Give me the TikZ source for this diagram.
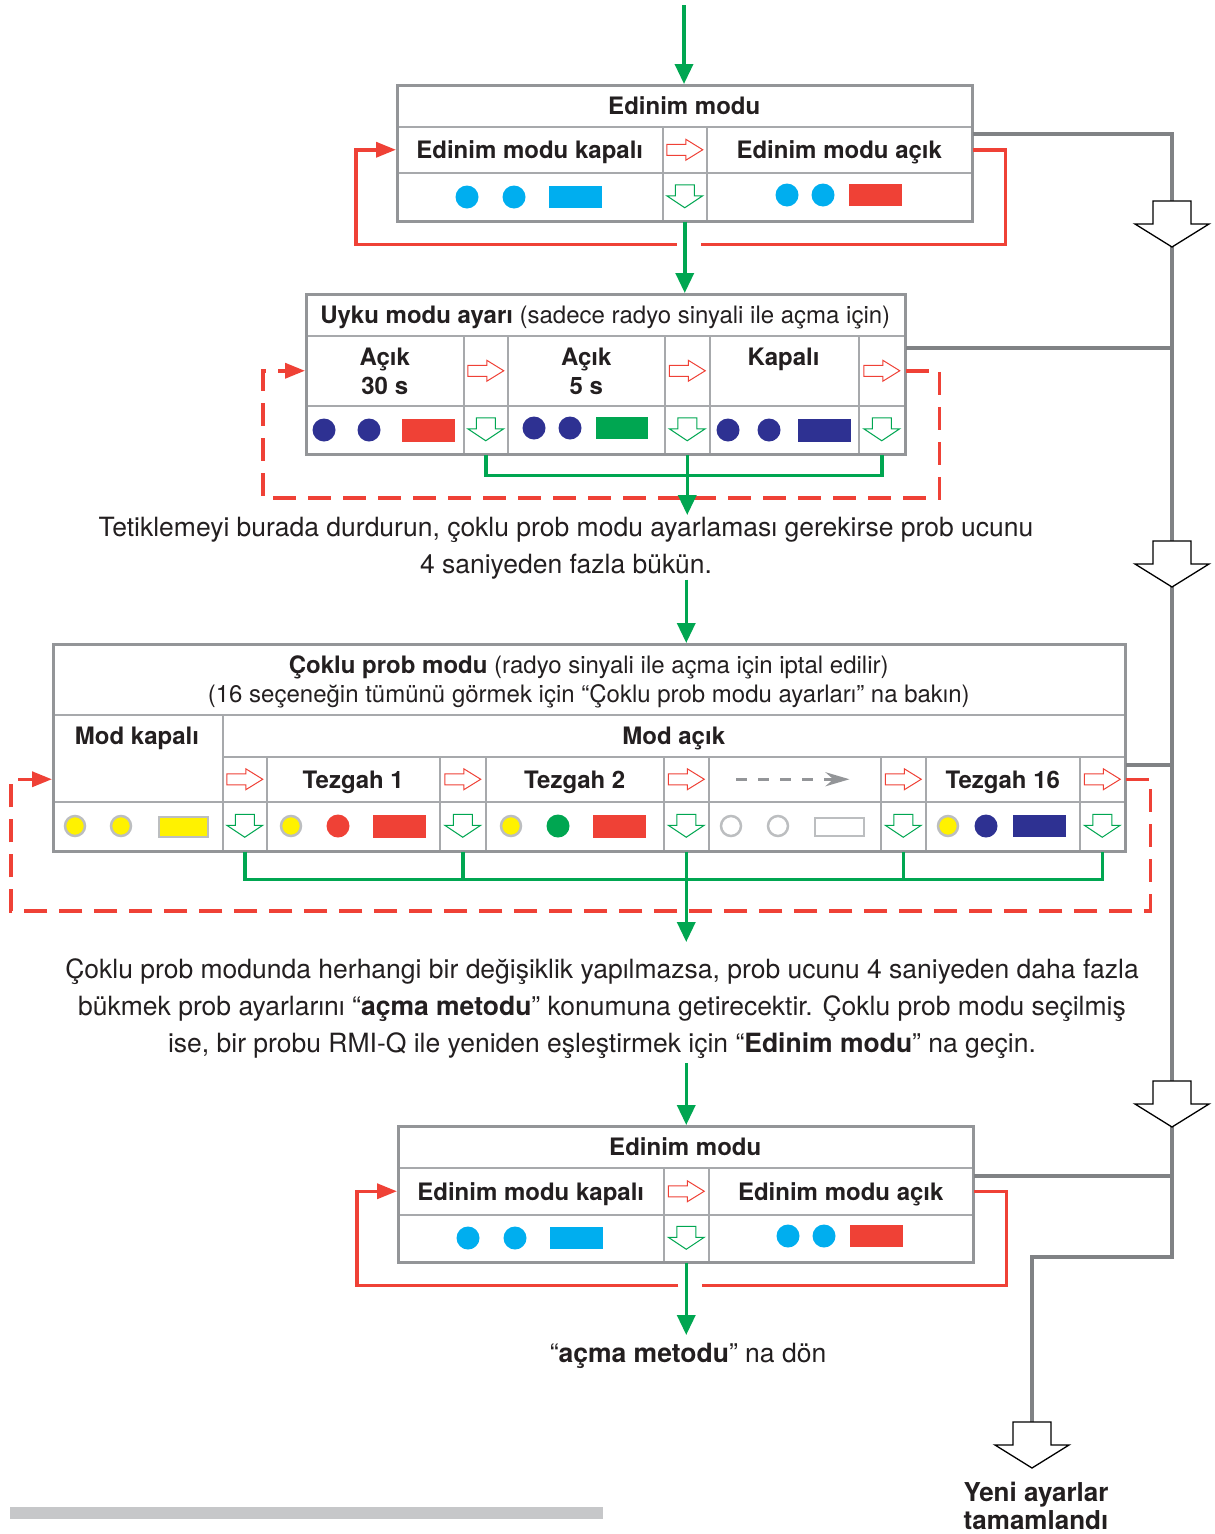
\documentclass[tikz,border=0pt]{standalone}
\usepackage{fontspec}
\setmainfont{TeX Gyre Heros}
\usepackage{tikz}
\usetikzlibrary{
  arrows.meta,
  positioning,
  calc
}
\definecolor{boxgray}{RGB}{147,149,152}
\definecolor{cellgray}{RGB}{167,169,172}
\definecolor{linegray}{RGB}{128,130,133}
\definecolor{ringgray}{RGB}{188,190,192}
\definecolor{barlight}{RGB}{198,199,201}
\definecolor{flowred}{RGB}{239,65,54}
\definecolor{flowgreen}{RGB}{0,166,81}
\definecolor{ledcyan}{RGB}{0,174,239}
\definecolor{lednavy}{RGB}{46,49,146}
\definecolor{ledyellow}{RGB}{255,242,0}
\definecolor{textdark}{RGB}{35,31,32}

\tikzset{
  redarr/.pic={\draw[flowred, line width=1pt, fill=white] (-18,-5.5) -- (1,-5.5) -- (1,-10.5) -- (18,0) -- (1,10.5) -- (1,5.5) -- (-18,5.5) -- cycle;},
  grnarr/.pic={\draw[flowgreen, line width=1pt, fill=white] (-9.5,-12) -- (9.5,-12) -- (9.5,-1) -- (18,-1) -- (0,11) -- (-18,-1) -- (-9.5,-1) -- cycle;},
  bigarr/.pic={\draw[black, line width=1.3pt, fill=white] (-19,-23) -- (19,-23) -- (19,0) -- (37,0) -- (0,23) -- (-37,0) -- (-19,0) -- cycle;}
}

\begin{document}
\begin{tikzpicture}[x=1pt, y=-1pt,
    every node/.style={font=\fontsize{24}{29}\selectfont, text=textdark},
    cell/.style={draw=cellgray, line width=1.5pt, anchor=north west, inner sep=0pt, align=center, text depth=0pt, font=\fontsize{24}{29}\selectfont\bfseries},
    outerbox/.style={draw=boxgray, line width=3pt, anchor=north west, inner sep=0pt},
    body/.style={font=\fontsize{26.5}{37}\selectfont, align=center, inner sep=0pt, anchor=north},
    greenflow/.style={draw=flowgreen, line width=3.5pt},
    greenarr/.style={greenflow, -{Triangle[length=20pt,width=18pt]}},
    redloop/.style={draw=flowred, line width=3.5pt},
    redback/.style={redloop, -{Triangle[length=20pt,width=15pt]}},
    reddash/.style={redback, dash pattern=on 23pt off 12pt},
    grayflow/.style={draw=linegray, line width=4pt},
    graydots/.style={draw=boxgray, line width=3pt, dash pattern=on 11pt off 11pt, -{Stealth[length=24pt,width=14pt]}},
    ledring/.style={draw=ringgray, line width=2.5pt}]
  \useasboundingbox (0,0) rectangle (1215,1534);

  % Edinim modu (top)
  \node[cell, minimum width=575pt, minimum height=42pt] (b1h) at (396,84) {Edinim modu};
  \node[cell, minimum width=266pt, minimum height=46pt] (b1off) at (396,126) {Edinim modu kapalı};
  \node[cell, minimum width=44pt, minimum height=46pt] (b1ar) at (662,126) {};
  \node[cell, minimum width=265pt, minimum height=46pt] (b1on) at (706,126) {Edinim modu açık};
  \node[cell, minimum width=266pt, minimum height=48pt] (b1offl) at (396,172) {};
  \node[cell, minimum width=44pt, minimum height=48pt] (b1arl) at (662,172) {};
  \node[cell, minimum width=265pt, minimum height=48pt] (b1onl) at (706,172) {};
  \node[outerbox, minimum width=575pt, minimum height=136pt] (b1) at (396,84) {};
  \pic at (b1ar.center) {redarr};
  \pic at (b1arl.center) {grnarr};
  \fill[ledcyan] (467,197) circle[radius=11.5pt] (514,197) circle[radius=11.5pt];
  \fill[ledcyan] (549,186) rectangle (602,208);
  \fill[ledcyan] (787,195) circle[radius=11.5pt] (823,195) circle[radius=11.5pt];
  \fill[flowred] (849,184) rectangle (902,206);

  % Uyku modu ayari
  \node[cell, minimum width=599pt, minimum height=42pt] (b2h) at (305,293) {Uyku modu ayarı {\mdseries (sadece radyo sinyali ile açma için)}};
  \node[cell, minimum width=158pt, minimum height=70pt] (b2a30) at (305,335) {Açık\\30 s};
  \node[cell, minimum width=44pt, minimum height=70pt] (b2ar1) at (463,335) {};
  \node[cell, minimum width=157pt, minimum height=70pt] (b2a5) at (507,335) {Açık\\5 s};
  \node[cell, minimum width=45pt, minimum height=70pt] (b2ar2) at (664,335) {};
  \node[cell, minimum width=149pt, minimum height=70pt] (b2off) at (709,335) {};
  \node[cell, minimum width=46pt, minimum height=70pt] (b2ar3) at (858,335) {};
  \node[cell, minimum width=158pt, minimum height=48pt] (b2a30l) at (305,405) {};
  \node[cell, minimum width=44pt, minimum height=48pt] (b2arl1) at (463,405) {};
  \node[cell, minimum width=157pt, minimum height=48pt] (b2a5l) at (507,405) {};
  \node[cell, minimum width=45pt, minimum height=48pt] (b2arl2) at (664,405) {};
  \node[cell, minimum width=149pt, minimum height=48pt] (b2offl) at (709,405) {};
  \node[cell, minimum width=46pt, minimum height=48pt] (b2arl3) at (858,405) {};
  \node[outerbox, minimum width=599pt, minimum height=160pt] (b2) at (305,293) {};
  \node[anchor=north, inner sep=0pt, font=\fontsize{24}{29}\selectfont\bfseries] (b2offt) at (783.5,348) {Kapalı};
  \pic at (b2ar1.center) {redarr};
  \pic at (b2ar2.center) {redarr};
  \pic at (b2ar3.center) {redarr};
  \pic at (b2arl1.center) {grnarr};
  \pic at (b2arl2.center) {grnarr};
  \pic at (b2arl3.center) {grnarr};
  \fill[lednavy] (324,430) circle[radius=11.5pt] (369,430) circle[radius=11.5pt];
  \fill[flowred] (402,419) rectangle (455,442);
  \fill[lednavy] (534,428) circle[radius=11.5pt] (570,428) circle[radius=11.5pt];
  \fill[flowgreen] (596,417) rectangle (648,439);
  \fill[lednavy] (728,430) circle[radius=11.5pt] (769,430) circle[radius=11.5pt];
  \fill[lednavy] (798,419) rectangle (851,442);

  \node[body] (t1) at (566,517) {Tetiklemeyi burada durdurun, çoklu prob modu ayarlaması gerekirse prob ucunu\\4 saniyeden fazla bükün.};

  % Coklu prob modu
  \node[cell, minimum width=1072pt, minimum height=71pt, font=\fontsize{24}{29}\selectfont] (b3h) at (52,643) {\textbf{Çoklu prob modu} (radyo sinyali ile açma için iptal edilir)\\(16 seçeneğin tümünü görmek için “Çoklu prob modu ayarları” na bakın)};
  \node[cell, minimum width=170pt, minimum height=87pt] (b3off) at (52,714) {};
  \node[cell, minimum width=902pt, minimum height=42pt] (b3on) at (222,714) {Mod açık};
  \node[cell, minimum width=44pt, minimum height=45pt] (b3ar1) at (222,756) {};
  \node[cell, minimum width=173pt, minimum height=45pt] (b3t1) at (266,756) {Tezgah 1};
  \node[cell, minimum width=46pt, minimum height=45pt] (b3ar2) at (439,756) {};
  \node[cell, minimum width=178pt, minimum height=45pt] (b3t2) at (485,756) {Tezgah 2};
  \node[cell, minimum width=45pt, minimum height=45pt] (b3ar3) at (663,756) {};
  \node[cell, minimum width=172pt, minimum height=45pt] (b3dots) at (708,756) {};
  \node[cell, minimum width=45pt, minimum height=45pt] (b3ar4) at (880,756) {};
  \node[cell, minimum width=154pt, minimum height=45pt] (b3t16) at (925,756) {Tezgah 16};
  \node[cell, minimum width=45pt, minimum height=45pt] (b3ar5) at (1079,756) {};
  \node[cell, minimum width=170pt, minimum height=49pt] (b3offl) at (52,801) {};
  \node[cell, minimum width=44pt, minimum height=49pt] (b3arl1) at (222,801) {};
  \node[cell, minimum width=173pt, minimum height=49pt] (b3t1l) at (266,801) {};
  \node[cell, minimum width=46pt, minimum height=49pt] (b3arl2) at (439,801) {};
  \node[cell, minimum width=178pt, minimum height=49pt] (b3t2l) at (485,801) {};
  \node[cell, minimum width=45pt, minimum height=49pt] (b3arl3) at (663,801) {};
  \node[cell, minimum width=172pt, minimum height=49pt] (b3dotsl) at (708,801) {};
  \node[cell, minimum width=45pt, minimum height=49pt] (b3arl4) at (880,801) {};
  \node[cell, minimum width=154pt, minimum height=49pt] (b3t16l) at (925,801) {};
  \node[cell, minimum width=45pt, minimum height=49pt] (b3arl5) at (1079,801) {};
  \node[outerbox, minimum width=1072pt, minimum height=207pt] (b3) at (52,643) {};
  \node[anchor=north, inner sep=0pt, font=\fontsize{24}{29}\selectfont\bfseries] (b3offt) at (137,727) {Mod kapalı};
  \pic at (b3ar1.center) {redarr};
  \pic at (b3ar2.center) {redarr};
  \pic at (b3ar3.center) {redarr};
  \pic at (b3ar4.center) {redarr};
  \pic at (b3ar5.center) {redarr};
  \pic at (b3arl1.center) {grnarr};
  \pic at (b3arl2.center) {grnarr};
  \pic at (b3arl3.center) {grnarr};
  \pic at (b3arl4.center) {grnarr};
  \pic at (b3arl5.center) {grnarr};
  \draw[graydots] ([xshift=28pt]b3dots.west) -- ([xshift=-32pt]b3dots.east);
  \filldraw[ledring, fill=ledyellow] (75,826) circle[radius=10pt] (121,826) circle[radius=10pt];
  \filldraw[ledring, fill=ledyellow] (159,817) rectangle (208,837);
  \filldraw[ledring, fill=ledyellow] (291,826) circle[radius=10pt];
  \fill[flowred] (338,826) circle[radius=11.5pt];
  \fill[flowred] (373,815) rectangle (426,838);
  \filldraw[ledring, fill=ledyellow] (511,826) circle[radius=10pt];
  \fill[flowgreen] (558,826) circle[radius=11.5pt];
  \fill[flowred] (593,815) rectangle (646,838);
  \draw[ledring] (731,826) circle[radius=10pt] (778,826) circle[radius=10pt];
  \draw[ledring] (815,818) rectangle (864,836);
  \filldraw[ledring, fill=ledyellow] (948,826) circle[radius=10pt];
  \fill[lednavy] (986,826) circle[radius=11.5pt];
  \fill[lednavy] (1013,815) rectangle (1066,837);

  \node[body] (t2) at (602,958) {Çoklu prob modunda herhangi bir değişiklik yapılmazsa, prob ucunu 4 saniyeden daha fazla\\bükmek prob ayarlarını “\textbf{açma metodu}” konumuna getirecektir. Çoklu prob modu seçilmiş\\ise, bir probu RMI-Q ile yeniden eşleştirmek için “\textbf{Edinim modu}” na geçin.};

  % Edinim modu (bottom)
  \node[cell, minimum width=575pt, minimum height=42pt] (b4h) at (397,1125) {Edinim modu};
  \node[cell, minimum width=266pt, minimum height=47pt] (b4off) at (397,1167) {Edinim modu kapalı};
  \node[cell, minimum width=45pt, minimum height=47pt] (b4ar) at (663,1167) {};
  \node[cell, minimum width=264pt, minimum height=47pt] (b4on) at (708,1167) {Edinim modu açık};
  \node[cell, minimum width=266pt, minimum height=47pt] (b4offl) at (397,1214) {};
  \node[cell, minimum width=45pt, minimum height=47pt] (b4arl) at (663,1214) {};
  \node[cell, minimum width=264pt, minimum height=47pt] (b4onl) at (708,1214) {};
  \node[outerbox, minimum width=575pt, minimum height=136pt] (b4) at (397,1125) {};
  \pic at (b4ar.center) {redarr};
  \pic at (b4arl.center) {grnarr};
  \fill[ledcyan] (468,1238) circle[radius=11.5pt] (515,1238) circle[radius=11.5pt];
  \fill[ledcyan] (550,1227) rectangle (603,1249);
  \fill[ledcyan] (788,1236) circle[radius=11.5pt] (824,1236) circle[radius=11.5pt];
  \fill[flowred] (850,1225) rectangle (903,1247);

  \node[body] (t3) at (688,1343) {“\textbf{açma metodu}” na dön};
  \node[body, font=\fontsize{26}{28}\selectfont\bfseries] (done) at (1036,1482) {Yeni ayarlar\\tamamlandı};

  % red return loops
  \draw[redloop] (b1on.east) -- ++(33,0) |- ([xshift=16pt,yshift=-23pt]b1arl.south);
  \draw[redback] ([xshift=-8pt,yshift=-23pt]b1arl.south) -| ([xshift=-40pt]b1off.west) -- (b1off.west);
  \draw[reddash] (b2ar3.east) -- ++(34,0) |- ([yshift=-42pt]b2.south) -| ([xshift=-42pt]b2a30.west) -- (b2a30.west);
  \coordinate (b3in) at (b3off.west |- b3ar1.center);
  \draw[reddash] (b3ar5.east) -- ++(25,0) |- ([yshift=-58pt]b3.south) -| ([xshift=-41pt]b3in) -- (b3in);
  \draw[redloop] (b4on.east) -- ++(33,0) |- ([xshift=16pt,yshift=-23pt]b4arl.south);
  \draw[redback] ([xshift=-8pt,yshift=-23pt]b4arl.south) -| ([xshift=-40pt]b4off.west) -- (b4off.west);

  % green flow
  \coordinate (gstart) at (684,5);
  \draw[greenarr] (gstart) -- (gstart |- b1.north);
  \draw[greenarr] (b1arl.south) -- (b1arl.south |- b2.north);
  \draw[greenflow] (b2arl1.south) -- ++(0,21) -| (b2arl3.south);
  \draw[greenarr, shorten >=2pt] (b2arl2.south) -- (b2arl2.south |- t1.north);
  \draw[greenarr] (b3ar3 |- t1.south) -- (b3ar3 |- b3.north);
  \draw[greenflow] (b3arl1.south) -- ++(0,28) -| (b3arl5.south);
  \draw[greenflow] (b3arl2.south) -- ++(0,28);
  \draw[greenflow] (b3arl4.south) -- ++(0,28);
  \draw[greenarr, shorten >=16pt] (b3arl3.south) -- (b3arl3.south |- t2.north);
  \draw[greenarr, shorten <=5pt] (b4ar |- t2.south) -- (b4ar |- b4.north);
  \draw[greenarr, shorten >=8pt] (b4arl.south) -- (b4arl.south |- t3.north);

  % gray exit line
  \coordinate (gturn) at (1172,1257);
  \coordinate (gdrop) at (1032,1422);
  \draw[grayflow] ([yshift=-8pt]b1on.north east) -| (gturn) -| (gdrop);
  \draw[grayflow] ([yshift=-13pt]b2ar3.north east) -| (gturn);
  \draw[grayflow] ([yshift=-9pt]b3ar5.north east) -| (gturn);
  \draw[grayflow] ([yshift=-9pt]b4on.north east) -| (gturn);
  \pic at (1172,224) {bigarr};
  \pic at (1172,564) {bigarr};
  \pic at (1172,1104) {bigarr};
  \pic at (1032,1445) {bigarr};

  \fill[barlight] (10,1507) rectangle (603,1519);
\end{tikzpicture}
\end{document}
